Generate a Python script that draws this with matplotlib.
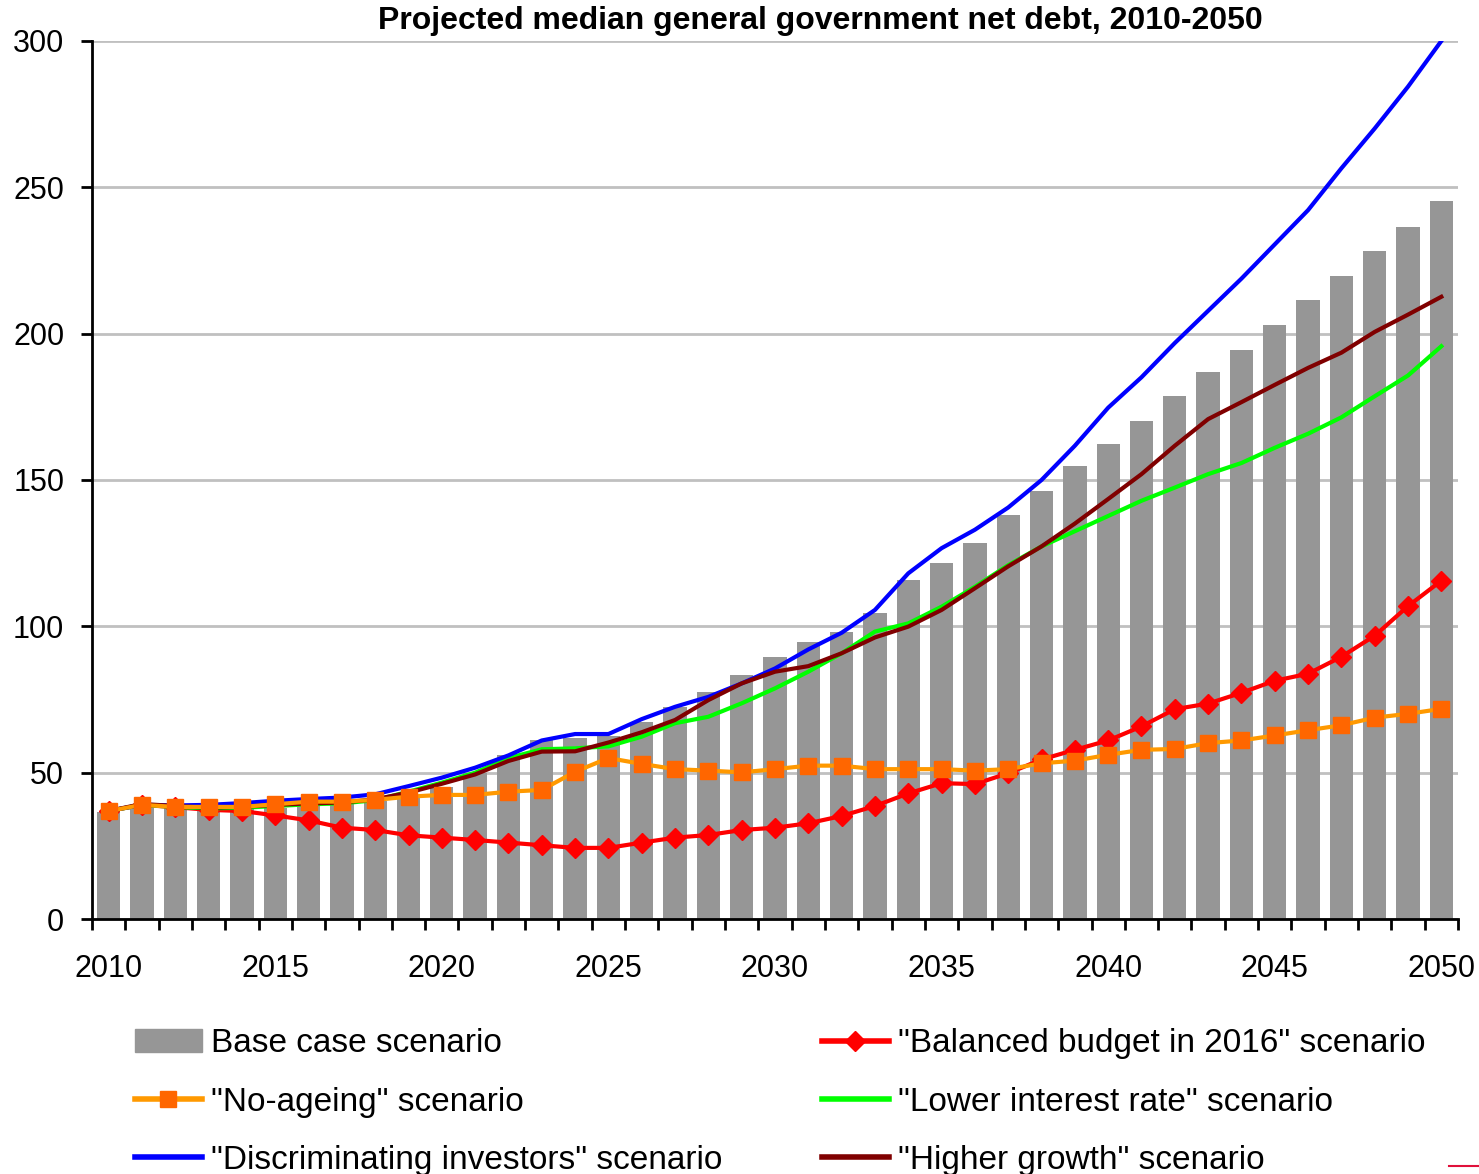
import matplotlib
matplotlib.use("Agg")
import matplotlib.pyplot as plt
from matplotlib.lines import Line2D
from matplotlib.patches import Patch
import numpy as np

plt.rcParams['font.family'] = ['Liberation Sans', 'DejaVu Sans']

years = list(range(2010, 2051))

base_case = [36.6, 38.5, 38.0, 37.5, 37.5, 38.0, 38.6, 39.2, 40.3, 42.0,
             45.2, 50.0, 56.0, 61.2, 61.8, 62.5, 67.3, 72.5, 77.7, 83.4,
             89.6, 94.8, 98.2, 104.7, 115.8, 121.7, 128.5, 137.9, 146.4, 154.8,
             162.3, 170.1, 178.6, 186.8, 194.5, 203.0, 211.6, 219.7, 228.2, 236.6, 245.2]

no_ageing = [36.9, 39.0, 38.3, 38.3, 38.3, 39.2, 40.1, 40.1, 40.7, 41.8,
             42.4, 42.4, 43.5, 44.1, 50.3, 55.0, 53.0, 51.2, 50.7, 50.1,
             51.2, 52.4, 52.4, 51.2, 51.2, 51.2, 50.7, 51.2, 53.2, 54.1,
             56.1, 57.8, 58.1, 60.1, 61.0, 62.7, 64.5, 66.2, 68.8, 70.1, 71.8]

balanced_budget = [36.9, 39.0, 38.2, 37.3, 36.9, 35.4, 33.7, 31.2, 30.4, 28.6,
                   27.8, 27.0, 26.1, 25.2, 24.3, 24.3, 26.1, 27.8, 28.7, 30.4,
                   31.2, 32.7, 35.2, 38.6, 42.9, 46.4, 46.1, 49.8, 54.5, 57.8,
                   61.0, 65.8, 71.7, 73.6, 77.3, 81.4, 83.8, 89.6, 96.8, 106.9, 115.6]

discriminating = [37.0, 39.0, 38.8, 39.0, 39.6, 40.4, 41.0, 41.5, 42.6, 45.4,
                  48.3, 51.7, 55.9, 61.0, 63.2, 63.2, 68.3, 72.5, 75.9, 80.5,
                  85.6, 92.1, 97.8, 105.6, 118.1, 126.7, 133.0, 140.6, 150.0, 161.7,
                  174.7, 185.1, 196.8, 207.8, 218.8, 230.5, 242.2, 256.5, 270.1, 284.4, 300.0]

lower_interest = [36.9, 39.0, 38.3, 37.8, 38.0, 38.6, 39.2, 39.5, 40.6, 43.5,
                  46.6, 50.0, 55.0, 58.0, 58.3, 59.0, 62.3, 66.9, 69.1, 73.7,
                  78.8, 84.5, 90.8, 98.2, 101.0, 106.7, 113.5, 120.9, 127.3, 132.5,
                  137.7, 142.9, 147.4, 152.0, 155.8, 161.0, 165.8, 171.4, 178.6, 185.7, 195.7]

higher_growth = [36.9, 39.3, 38.6, 38.0, 38.3, 39.0, 39.5, 39.8, 40.9, 43.2,
                 46.2, 49.4, 54.0, 57.2, 57.3, 60.3, 63.8, 68.0, 74.8, 80.5,
                 84.5, 86.4, 90.8, 96.2, 99.9, 105.6, 113.0, 120.5, 127.3, 135.1,
                 143.5, 152.0, 161.7, 170.8, 176.6, 182.5, 188.3, 193.5, 200.6, 206.5, 212.6]

labels = ['Base case scenario', '"No-ageing" scenario', '"Discriminating investors" scenario',
          '"Balanced budget in 2016" scenario', '"Lower interest rate" scenario',
          '"Higher growth" scenario']

bar_color = '#969696'
fig = plt.figure(figsize=(14.79, 11.74), dpi=100)
ax = fig.add_axes([0.0622, 0.2172, 0.9236, 0.7479])

ax.bar(years, base_case, width=0.7, color=bar_color, zorder=2)
ax.plot(years, balanced_budget, color='#FF0000', lw=3, marker='D', ms=10,
        mfc='#FF0000', mec='#FF0000', zorder=3)
ax.plot(years, lower_interest, color='#00FF00', lw=3, zorder=4)
ax.plot(years, discriminating, color='#0000FF', lw=3, zorder=5)
ax.plot(years, higher_growth, color='#800000', lw=3, zorder=6)
ax.plot(years, no_ageing, color='#FF9900', lw=3, marker='s', ms=12,
        mfc='#FF6600', mec='#FF6600', zorder=7)

ax.set_xlim(2009.5, 2050.5)
ax.set_ylim(0, 300)
ax.set_yticks(range(0, 301, 50))
ax.yaxis.grid(True, color='#C0C0C0', lw=2)
ax.set_axisbelow(True)

ax.set_xticks(years[::5])
ax.set_xticks(np.arange(2009.5, 2051, 1), minor=True)
ax.tick_params(axis='x', which='major', length=0, pad=25, labelsize=22)
ax.tick_params(axis='x', which='minor', length=8, width=2, direction='out')
ax.tick_params(axis='y', length=8, width=2, pad=12, labelsize=22)

for s in ['top', 'right']:
    ax.spines[s].set_visible(False)
for s in ['left', 'bottom']:
    ax.spines[s].set_linewidth(2)

fig.text(0.5545, 0.982, 'Projected median general government net debt, 2010-2050',
         ha='center', va='center', fontsize=23, fontweight='bold')

handles = [
    Patch(color=bar_color),
    Line2D([], [], color='#FF9900', lw=4, marker='s', ms=12, mfc='#FF6600', mec='#FF6600'),
    Line2D([], [], color='#0000FF', lw=4),
    Line2D([], [], color='#FF0000', lw=4, marker='D', ms=10, mfc='#FF0000', mec='#FF0000'),
    Line2D([], [], color='#00FF00', lw=4),
    Line2D([], [], color='#800000', lw=4),
]
fig.legend(handles, labels, ncol=2, loc='upper left', bbox_to_anchor=(0.0913, 0.124),
           frameon=False, fontsize=24, handlelength=2.0, handletextpad=0.27,
           columnspacing=3.0, labelspacing=0.82, borderpad=0, borderaxespad=0)

fig.add_artist(Line2D([0.98, 1.0], [0.0065, 0.0065], color='#E0103A', lw=1.5))

fig.savefig('out.png', dpi=100)
